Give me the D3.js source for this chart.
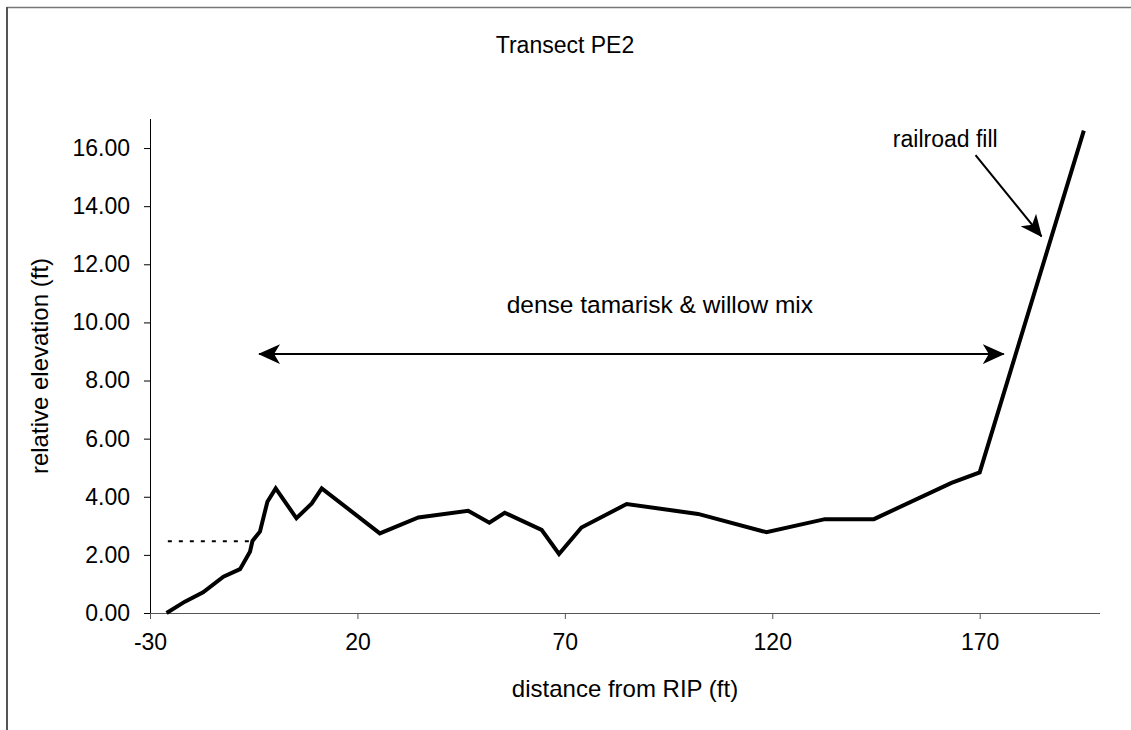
<!DOCTYPE html>
<html><head><meta charset="utf-8">
<script src="https://cdn.jsdelivr.net/npm/d3@7"></script>
<style>
html,body{margin:0;padding:0;background:#fff;}
svg text{font-family:"Liberation Sans",Arial,sans-serif;fill:#000;}
</style></head>
<body>
<svg id="chart" width="1131" height="730"></svg>
<script>
// ---- data ----
const distance = [-26.0, -21.6, -17.2, -12.3, -8.3, -5.9, -5.3, -3.5, -1.7, 0.3, 5.3, 9.0, 11.4, 25.4, 34.7, 46.7, 51.8, 55.5, 64.4, 68.6, 74.0, 84.9, 102.1, 118.6, 132.7, 144.5, 163.2, 170.0, 195.1];
const elevation = [0.00, 0.39, 0.71, 1.25, 1.51, 2.11, 2.48, 2.80, 3.83, 4.29, 3.26, 3.77, 4.29, 2.74, 3.29, 3.52, 3.11, 3.45, 2.86, 2.03, 2.94, 3.75, 3.41, 2.78, 3.23, 3.23, 4.48, 4.84, 16.60];
const waterDistance = [-25.7, -5.5];
const waterElevation = [2.47, 2.47];
const xTicks = [-30, 20, 70, 120, 170];
const yTicks = [0, 2, 4, 6, 8, 10, 12, 14, 16];
const xDomain = [-30, 199];
const yDomain = [0, 17];
const title = "Transect PE2";
const xTitle = "distance from RIP (ft)";
const yTitle = "relative elevation (ft)";
const spanLabel = "dense tamarisk & willow mix";
const spanArrow = {x1: -3.7, x2: 175.8, y: 8.91, labelX: 92.9, labelY: 10.32};
const fillLabel = "railroad fill";
const fillArrow = {x1: 169.0, y1: 15.76, x2: 184.9, y2: 12.96, labelX: 161.7, labelY: 16.05};

// ---- layout ----
const svg = d3.select("#chart");
const L = 150, R = 1100, T = 119, B = 613;
const x = d3.scaleLinear().domain(xDomain).range([L, R]);
const y = d3.scaleLinear().domain(yDomain).range([B, T]);
const FS = 23;

// outer frame
svg.append("line").attr("x1",7).attr("y1",7.5).attr("x2",1131).attr("y2",7.5).attr("stroke","#777").attr("stroke-width",1.5);
svg.append("line").attr("x1",7).attr("y1",7).attr("x2",7).attr("y2",730).attr("stroke","#555").attr("stroke-width",2);

// arrowhead marker
const defs = svg.append("defs");
defs.append("marker").attr("id","head").attr("viewBox","0 0 22 20")
  .attr("refX",21).attr("refY",10).attr("markerWidth",22).attr("markerHeight",20)
  .attr("markerUnits","userSpaceOnUse").attr("orient","auto-start-reverse")
  .append("path").attr("d","M0,0 L22,10 L0,20 L6,10 Z").attr("fill","#000");

// axes
const xAxis = d3.axisBottom(x).tickValues(xTicks).tickFormat(d => String(d)).tickSize(6).tickPadding(8);
const yAxis = d3.axisLeft(y).tickValues(yTicks).tickFormat(d3.format(".2f")).tickSize(6).tickPadding(14);
const gx = svg.append("g").attr("transform",`translate(0,${B})`).call(xAxis);
gx.select(".domain").attr("stroke","#555").attr("d",`M${L},0.5H${R}`);
gx.selectAll(".tick line").attr("stroke","#555");
gx.selectAll(".tick text").attr("font-size",FS).attr("dy","1.0em").attr("font-family","Liberation Sans, Arial, sans-serif");
const gy = svg.append("g").attr("transform",`translate(${L},0)`).call(yAxis);
gy.select(".domain").attr("stroke","#000").attr("d",`M0.5,${T}V${B}`);
gy.selectAll(".tick line").attr("stroke","#000");
gy.selectAll(".tick text").attr("font-size",FS).attr("font-family","Liberation Sans, Arial, sans-serif");

// series
const pts = distance.map((d,i)=>[d, elevation[i]]);
const line = d3.line().x(d=>x(d[0])).y(d=>y(d[1]));
svg.append("path").datum(pts).attr("d",line).attr("fill","none").attr("stroke","#000")
  .attr("stroke-width",4).attr("stroke-linejoin","miter");
const wpts = waterDistance.map((d,i)=>[d, waterElevation[i]]);
svg.append("path").datum(wpts).attr("d",line).attr("fill","none").attr("stroke","#000")
  .attr("stroke-width",2).attr("stroke-dasharray","4,7");

// annotations
svg.append("line").attr("x1",x(spanArrow.x1)).attr("x2",x(spanArrow.x2)).attr("y1",y(spanArrow.y)).attr("y2",y(spanArrow.y))
  .attr("stroke","#000").attr("stroke-width",2).attr("marker-start","url(#head)").attr("marker-end","url(#head)");
svg.append("text").attr("x",x(spanArrow.labelX)).attr("y",y(spanArrow.labelY)).attr("text-anchor","middle").attr("font-size",24.5).text(spanLabel);
svg.append("line").attr("x1",x(fillArrow.x1)).attr("y1",y(fillArrow.y1)).attr("x2",x(fillArrow.x2)).attr("y2",y(fillArrow.y2))
  .attr("stroke","#000").attr("stroke-width",2).attr("marker-end","url(#head)");
svg.append("text").attr("x",x(fillArrow.labelX)).attr("y",y(fillArrow.labelY)).attr("text-anchor","middle").attr("font-size",FS).text(fillLabel);

// titles
svg.append("text").attr("x",565).attr("y",53).attr("text-anchor","middle").attr("font-size",FS).text(title);
svg.append("text").attr("x",625).attr("y",697).attr("text-anchor","middle").attr("font-size",24).text(xTitle);
svg.append("text").attr("transform","translate(48,366) rotate(-90)").attr("text-anchor","middle").attr("font-size",24).text(yTitle);
</script>
</body></html>
